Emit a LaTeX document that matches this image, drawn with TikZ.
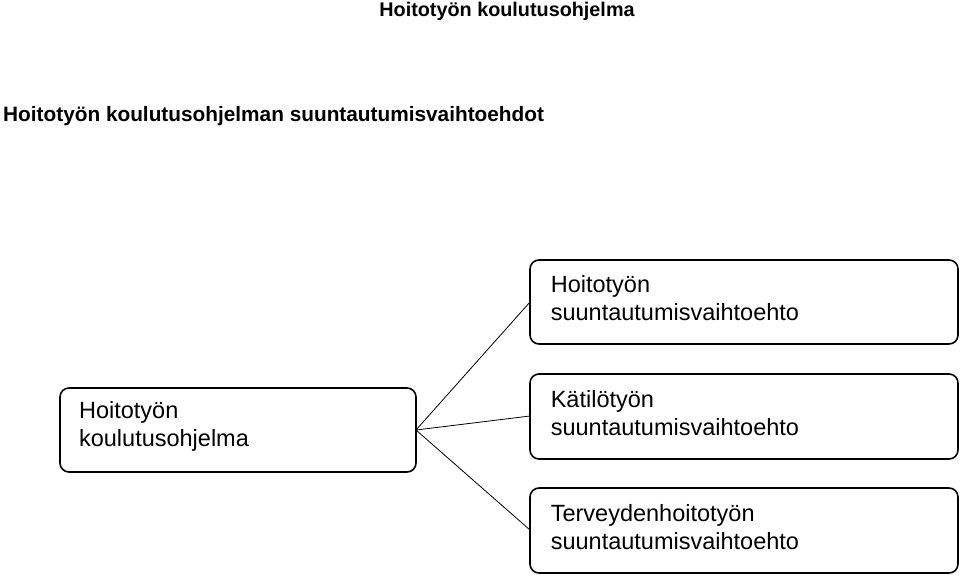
\documentclass[tikz,border=0pt]{standalone}
\usepackage{fontspec}
\setmainfont{Liberation Sans}
\begin{document}
\begin{tikzpicture}[x=1pt,y=-1pt,
  box/.style={draw,line width=1.6pt,rounded corners=9pt,font=\fontsize{23.5}{28}\selectfont,align=left,inner sep=0pt},
  ttl/.style={font=\bfseries\fontsize{19.8}{22}\selectfont,inner sep=0pt}]
\useasboundingbox (0,0) rectangle (960,575);
\node[ttl] (t1) at (507,11) {Hoitotyön koulutusohjelma};
\node[ttl,font=\bfseries\fontsize{20.8}{22}\selectfont,anchor=west] (t2) at (3,116) {Hoitotyön koulutusohjelman suuntautumisvaihtoehdot};
\draw[box] (60,388) rectangle (416,472);
\node[box,draw=none,anchor=center] (l) at (164,426) {Hoitotyön\\koulutusohjelma};
\coordinate (lr) at (416,430);
\draw[box] (530,260) rectangle (958,344);
\node[box,draw=none,anchor=west] (r1) at (550,298) {Hoitotyön\\suuntautumisvaihtoehto};
\draw[box] (530,374) rectangle (958,459);
\node[box,draw=none,anchor=west] (r2) at (550,413) {Kätilötyön\\suuntautumisvaihtoehto};
\draw[box] (530,488) rectangle (958,573);
\node[box,draw=none,anchor=west] (r3) at (550,527) {Terveydenhoitotyön\\suuntautumisvaihtoehto};
\coordinate (a1) at (530,302);
\coordinate (a2) at (530,416);
\coordinate (a3) at (530,530);
\draw[line width=0.8pt] (lr) -- (a1) (lr) -- (a2) (lr) -- (a3);
\end{tikzpicture}
\end{document}
